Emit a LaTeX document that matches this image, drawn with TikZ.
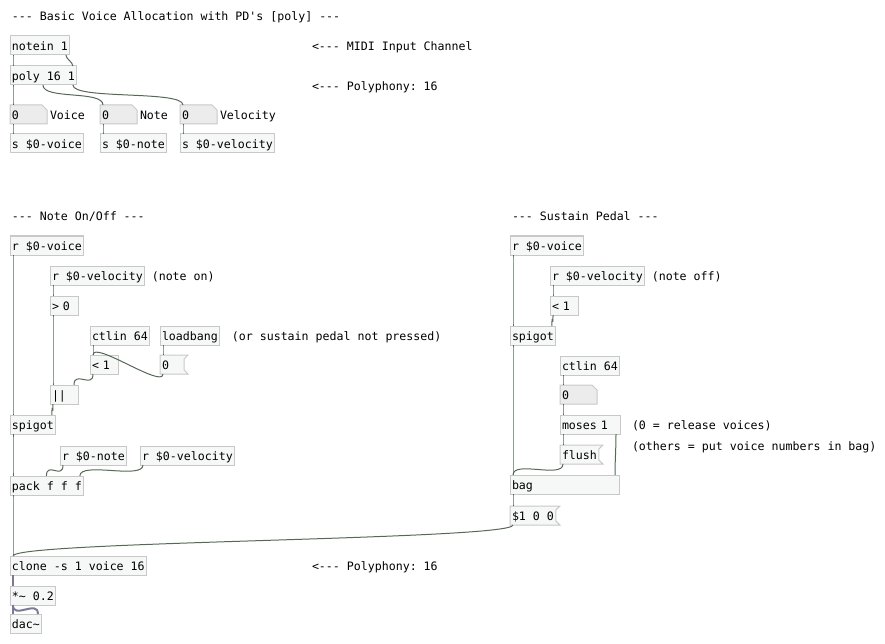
\documentclass[tikz,border=0pt]{standalone}
\usepackage{fontspec}
\setmonofont{DejaVu Sans Mono}
\usetikzlibrary{positioning,backgrounds}
\definecolor{boxline}{RGB}{200,200,200}
\definecolor{boxfill}{RGB}{246,248,248}
\definecolor{numfill}{RGB}{236,236,236}
\definecolor{wirecol}{RGB}{88,104,88}
\definecolor{sigcol}{RGB}{122,122,150}
\tikzset{
  wirebend/.initial=15,
  pdtext/.style={font=\ttfamily\fontsize{11.6}{14}\selectfont, inner xsep=2pt,
    inner ysep=2.75pt, text height=11.5pt, text depth=2pt, anchor=north west, outer sep=0pt},
  pdobj/.style={pdtext, draw=boxline, fill=boxfill, line width=1pt},
  pdnum/.style={pdtext, text width=33pt, align=left},
  pdmsg/.style={pdtext, align=left},
  pdnote/.style={pdtext},
  pdshape/.style={draw=boxline, fill=boxfill, line width=1pt},
  wire/.style={draw=wirecol, line width=1pt,
    to path={.. controls +(0,\pgfkeysvalueof{/tikz/wirebend})
      and +(0,-\pgfkeysvalueof{/tikz/wirebend}) .. (\tikztotarget)}},
  sig/.style={wire, draw=sigcol, line width=2pt}
}
\begin{document}
\begin{tikzpicture}[x=1pt,y=-1pt]
    \useasboundingbox (0,0) rectangle (885,644);

    % voice allocation
    \node[pdnote] (title) at (10,6) {--- Basic Voice Allocation with PD's [poly] ---};
    \node[pdobj]  (notein) at (10,36) {notein 1};
    \node[pdobj]  (poly) [below right=11pt and 0pt of notein.south west] {poly 16 1};
    \node[pdnote] (midinote) at (310,36) {<--- MIDI Input Channel};
    \node[pdnote] (polynote) at (310,76) {<--- Polyphony: 16};
    \node[pdnum]  (numV) [below right=20pt and 0pt of poly.south west] {0};
    \node[pdnum]  (numN) at (100,105) {0};
    \node[pdnum]  (numVel) at (180,105) {0};
    \node[pdnote] (voicelbl) [right=1pt of numV] {Voice};
    \node[pdnote] (notelbl) [right=1pt of numN] {Note};
    \node[pdnote] (vellbl) [right=1pt of numVel] {Velocity};
    \node[pdobj]  (sV) [below right=10pt and 0pt of numV.south west] {s \$0-voice};
    \node[pdobj]  (sN) [below right=10pt and 0pt of numN.south west] {s \$0-note};
    \node[pdobj]  (sVel) [below right=10pt and 0pt of numVel.south west] {s \$0-velocity};

    % note on/off
    \node[pdnote] (headA) at (10,206) {--- Note On/Off ---};
    \node[pdobj]  (rvoiceA) at (10,236) {r \$0-voice};
    \node[pdobj]  (rvelA) at (50,266) {r \$0-velocity};
    \node[pdnote] (noteon) [right=5pt of rvelA] {(note on)};
    \node[pdobj, text width=24pt, align=left] (gtA) [below right=11pt and 0pt of rvelA.south west] {> 0};
    \node[pdobj]  (ctlinA) at (90,326) {ctlin 64};
    \node[pdobj]  (loadA) at (160,326) {loadbang};
    \node[pdnote] (sustnote) [right=10pt of loadA] {(or sustain pedal not pressed)};
    \node[pdobj, text width=24pt, align=left] (ltA) [below right=10pt and 0pt of ctlinA.south west] {< 1};
    \node[pdmsg, text width=20pt] (zeroA) [below right=10pt and 0pt of loadA.south west] {0};
    \node[pdobj, text width=24pt, align=left] (orA) at (50,385) {||};
    \node[pdobj]  (spigA) at (10,415) {spigot};
    \node[pdobj]  (rnoteA) at (60,446) {r \$0-note};
    \node[pdobj]  (rvel2A) at (140,446) {r \$0-velocity};
    \node[pdobj]  (packA) at (10,476) {pack f f f};

    % sustain pedal
    \node[pdnote] (headB) at (510,206) {--- Sustain Pedal ---};
    \node[pdobj]  (rvoiceB) at (510,236) {r \$0-voice};
    \node[pdobj]  (rvelB) at (550,266) {r \$0-velocity};
    \node[pdnote] (noteoff) [right=5pt of rvelB] {(note off)};
    \node[pdobj, text width=24pt, align=left] (ltB) [below right=11pt and 0pt of rvelB.south west] {< 1};
    \node[pdobj]  (spigB) at (510,326) {spigot};
    \node[pdobj]  (ctlinB) at (560,356) {ctlin 64};
    \node[pdnum]  (numB) [below right=10pt and 0pt of ctlinB.south west] {0};
    \node[pdobj, text width=56pt, align=left] (mosesB) [below right=11pt and 0pt of numB.south west] {moses 1};
    \node[pdnote] (releasenote) [right=10pt of mosesB] {(0 = release voices)};
    \node[pdnote] (bagnote) at (630,436) {(others = put voice numbers in bag)};
    \node[pdmsg]  (flushB) [below right=11pt and 0pt of mosesB.south west] {flush};
    \node[pdobj, text width=105pt, align=left] (bagB) at (510,475) {bag};
    \node[pdmsg]  (dollarB) [below right=12pt and 0pt of bagB.south west] {\$1 0 0};

    % voices
    \node[pdobj]  (clone) at (10,556) {clone -s 1 voice 16};
    \node[pdnote] (polynote2) at (310,556) {<--- Polyphony: 16};
    \node[pdobj]  (mul) [below right=11pt and 0pt of clone.south west] {*\textasciitilde{} 0.2};
    \node[pdobj]  (dac) [below right=9pt and 0pt of mul.south west] {dac\textasciitilde};

    \begin{scope}[on background layer]
      \foreach \n in {numV,numN,numVel,numB}
        \draw[pdshape, fill=numfill] (\n.north west) -- ([xshift=-5pt]\n.north east)
          -- ([yshift=-5pt]\n.north east) -- (\n.south east) -- (\n.south west) -- cycle;
      \foreach \n in {zeroA,flushB,dollarB}
        \draw[pdshape] (\n.north west) -- ([xshift=4pt]\n.north east)
          -- ([yshift=-4pt]\n.north east) -- ([yshift=4pt]\n.south east)
          -- ([xshift=4pt]\n.south east) -- (\n.south west) -- cycle;
    \end{scope}

    % connections, left outlet to left inlet
    \foreach \a/\b in {notein/poly,poly/numV,numV/sV,numN/sN,numVel/sVel,
        rvoiceA/spigA,rvelA/gtA,gtA/orA,ctlinA/ltA,loadA/zeroA,zeroA/ltA,
        spigA/packA,packA/clone,rvoiceB/spigB,rvelB/ltB,spigB/bagB,ctlinB/numB,
        numB/mosesB,mosesB/flushB,flushB/bagB,bagB/dollarB,dollarB/clone}
      \draw[wire] ([xshift=3pt]\a.south west) to ([xshift=3pt]\b.north west);

    \draw[wire, wirebend=4] ([xshift=-4pt]notein.south east) to ([xshift=-4pt]poly.north east);
    \draw[wire] ([xshift=-0.5pt]poly.south) to ([xshift=3pt]numN.north west);
    \draw[wire] ([xshift=-4pt]poly.south east) to ([xshift=3pt]numVel.north west);
    \draw[wire] ([xshift=3pt]ltA.south west) to ([xshift=-4pt]orA.north east);
    \draw[wire] ([xshift=3pt]orA.south west) to ([xshift=-4pt]spigA.north east);
    \draw[wire] ([xshift=3pt]rnoteA.south west) to ([xshift=-0.5pt]packA.north);
    \draw[wire] ([xshift=3pt]rvel2A.south west) to ([xshift=-4pt]packA.north east);
    \draw[wire] ([xshift=3pt]ltB.south west) to ([xshift=-4pt]spigB.north east);
    \draw[wire] ([xshift=-4pt]mosesB.south east) to ([xshift=-4pt]bagB.north east);

    % audio
    \draw[sig] ([xshift=3pt]clone.south west) to ([xshift=3pt]mul.north west);
    \draw[sig] ([xshift=3pt]mul.south west) to ([xshift=3pt]dac.north west);
    \draw[sig] ([xshift=3pt]mul.south west) to ([xshift=-4pt]dac.north east);
\end{tikzpicture}
\end{document}
